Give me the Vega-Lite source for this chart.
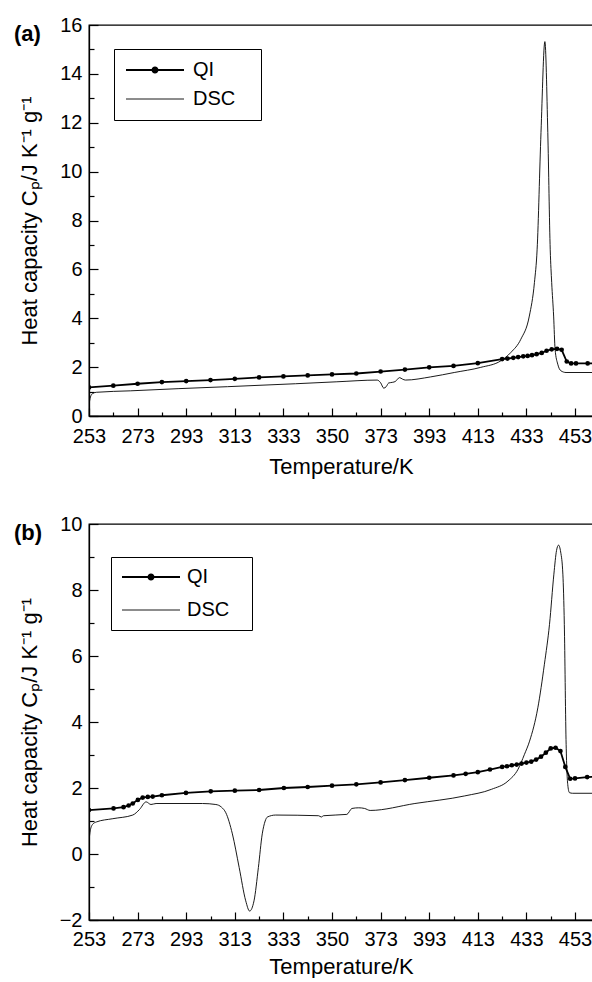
{
  "$schema": "https://vega.github.io/schema/vega-lite/v6.json",
  "background": "white",
  "padding": {"left": 13, "top": 14, "right": 0, "bottom": 0},
  "config": {
    "font": "Liberation Sans",
    "view": {"stroke": "black", "strokeWidth": 1.3},
    "axis": {"grid": false, "domainColor": "black", "domainWidth": 1.3, "tickColor": "black", "tickWidth": 1.2, "labelColor": "black", "titleColor": "black", "labelFontSize": 20, "titleFontSize": 22, "titleFontWeight": "normal", "labelOverlap": false, "labelFlush": false},
    "legend": {"orient": "none", "labelFontSize": 20, "labelColor": "black", "symbolType": "stroke", "symbolSize": 3364, "symbolStrokeColor": "black", "strokeColor": "black", "fillColor": "white", "padding": 11, "rowPadding": 9, "symbolOffset": 20, "labelOffset": 28, "symbolStrokeWidth": 1, "titleOrient": "right", "titleFontSize": 2, "titleColor": "white"},
    "title": {"fontSize": 22, "fontWeight": "bold", "anchor": "start", "frame": "group", "baseline": "top", "offset": -31, "dx": -75, "color": "black"},
    "concat": {"spacing": 35}
  },
  "resolve": {"scale": {"color": "independent", "x": "independent", "y": "independent"}, "legend": {"color": "independent"}},
  "vconcat": [
    {
      "title": {"text": "(a)"},
      "width": 504,
      "height": 391,
      "data": {"values": [
        {"s": "QI", "T": 253, "Cp": 1.17}, {"s": "QI", "T": 263, "Cp": 1.24}, {"s": "QI", "T": 273, "Cp": 1.32}, {"s": "QI", "T": 283, "Cp": 1.39}, {"s": "QI", "T": 293, "Cp": 1.43}, {"s": "QI", "T": 303, "Cp": 1.47}, {"s": "QI", "T": 313, "Cp": 1.52}, {"s": "QI", "T": 323, "Cp": 1.58}, {"s": "QI", "T": 333, "Cp": 1.62}, {"s": "QI", "T": 343, "Cp": 1.66}, {"s": "QI", "T": 353, "Cp": 1.70}, {"s": "QI", "T": 363, "Cp": 1.74}, {"s": "QI", "T": 373, "Cp": 1.82}, {"s": "QI", "T": 383, "Cp": 1.90}, {"s": "QI", "T": 393, "Cp": 1.99}, {"s": "QI", "T": 403, "Cp": 2.05}, {"s": "QI", "T": 413, "Cp": 2.16}, {"s": "QI", "T": 423, "Cp": 2.33}, {"s": "QI", "T": 425.2, "Cp": 2.35}, {"s": "QI", "T": 427.6, "Cp": 2.38}, {"s": "QI", "T": 429.6, "Cp": 2.41}, {"s": "QI", "T": 431.7, "Cp": 2.44}, {"s": "QI", "T": 433.5, "Cp": 2.46}, {"s": "QI", "T": 435.3, "Cp": 2.49}, {"s": "QI", "T": 437.2, "Cp": 2.53}, {"s": "QI", "T": 439.3, "Cp": 2.58}, {"s": "QI", "T": 441.3, "Cp": 2.67}, {"s": "QI", "T": 443.4, "Cp": 2.73}, {"s": "QI", "T": 445.6, "Cp": 2.75}, {"s": "QI", "T": 447.5, "Cp": 2.71}, {"s": "QI", "T": 449.6, "Cp": 2.23}, {"s": "QI", "T": 451.4, "Cp": 2.15}, {"s": "QI", "T": 453.4, "Cp": 2.15}, {"s": "QI", "T": 458.2, "Cp": 2.15}, {"s": "QI", "T": 461.5, "Cp": 2.15},
        {"s": "DSC", "T": 253, "Cp": 0.45}, {"s": "DSC", "T": 253.6, "Cp": 0.78}, {"s": "DSC", "T": 254.5, "Cp": 0.92}, {"s": "DSC", "T": 256, "Cp": 0.97}, {"s": "DSC", "T": 270, "Cp": 1.03}, {"s": "DSC", "T": 290, "Cp": 1.12}, {"s": "DSC", "T": 310, "Cp": 1.2}, {"s": "DSC", "T": 338, "Cp": 1.32}, {"s": "DSC", "T": 355, "Cp": 1.4}, {"s": "DSC", "T": 371.6, "Cp": 1.47}, {"s": "DSC", "T": 373, "Cp": 1.36}, {"s": "DSC", "T": 374.3, "Cp": 1.14}, {"s": "DSC", "T": 375.3, "Cp": 1.2}, {"s": "DSC", "T": 376.3, "Cp": 1.35}, {"s": "DSC", "T": 378, "Cp": 1.38}, {"s": "DSC", "T": 379, "Cp": 1.41}, {"s": "DSC", "T": 380.8, "Cp": 1.57}, {"s": "DSC", "T": 382, "Cp": 1.51}, {"s": "DSC", "T": 383.2, "Cp": 1.47}, {"s": "DSC", "T": 393.6, "Cp": 1.6}, {"s": "DSC", "T": 403.3, "Cp": 1.78}, {"s": "DSC", "T": 414.2, "Cp": 1.99}, {"s": "DSC", "T": 422.5, "Cp": 2.26}, {"s": "DSC", "T": 426.6, "Cp": 2.6}, {"s": "DSC", "T": 430.7, "Cp": 3.14}, {"s": "DSC", "T": 434.2, "Cp": 4.09}, {"s": "DSC", "T": 436.3, "Cp": 5.46}, {"s": "DSC", "T": 437.4, "Cp": 6.8}, {"s": "DSC", "T": 439, "Cp": 11.6}, {"s": "DSC", "T": 440.6, "Cp": 15.32}, {"s": "DSC", "T": 441.8, "Cp": 11.6}, {"s": "DSC", "T": 442.8, "Cp": 6.8}, {"s": "DSC", "T": 443.4, "Cp": 5.46}, {"s": "DSC", "T": 444.2, "Cp": 4.09}, {"s": "DSC", "T": 444.8, "Cp": 2.73}, {"s": "DSC", "T": 445.9, "Cp": 2.12}, {"s": "DSC", "T": 447.2, "Cp": 1.85}, {"s": "DSC", "T": 449.3, "Cp": 1.78}, {"s": "DSC", "T": 461.5, "Cp": 1.78}
      ]},
      "encoding": {
        "x": {"field": "T", "type": "quantitative", "scale": {"domain": [253, 460.4], "nice": false, "zero": false},
          "axis": {"title": "Temperature/K", "values": [253, 263, 273, 283, 293, 303, 313, 323, 333, 343, 353, 363, 373, 383, 393, 403, 413, 423, 433, 443, 453],
            "tickSize": -8,
            "tickDash": {"condition": {"test": "(datum.value - 253) % 20 === 0", "value": [8, 0]}, "value": [4, 30]},
            "labelExpr": "(datum.value - 253) % 20 === 0 ? (datum.value === 353 ? '350' : datum.label) : ''",
            "labelPadding": 18, "titlePadding": 10}},
        "y": {"field": "Cp", "type": "quantitative", "scale": {"domain": [0, 16], "nice": false},
          "axis": {"title": "Heat capacity Cₚ/J K⁻¹ g⁻¹", "values": [0, 1, 2, 3, 4, 5, 6, 7, 8, 9, 10, 11, 12, 13, 14, 15, 16],
            "tickSize": -9,
            "tickDash": {"condition": {"test": "datum.value % 2 === 0", "value": [9, 0]}, "value": [5, 30]},
            "labelExpr": "datum.value % 2 === 0 ? datum.label : ''",
            "labelPadding": 16, "titlePadding": 18}},
        "color": {"field": "s", "type": "nominal", "scale": {"domain": ["QI", "DSC"], "range": ["black", "black"]},
          "legend": {"title": ".", "titlePadding": 14, "legendX": 25, "legendY": 24,
            "encode": {"symbols": {"update": {
              "shape": {"signal": "datum.value === 'QI' ? 'M-1,0L1,0M-0.09,0A0.09,0.09,0,1,1,0.09,0A0.09,0.09,0,1,1,-0.09,0Z' : 'stroke'"},
              "strokeWidth": {"signal": "datum.value === 'QI' ? 1.8 : 0.9"},
              "fill": {"value": "black"}}}}}}
      },
      "layer": [
        {"transform": [{"filter": "datum.s === 'DSC'"}], "mark": {"type": "line", "strokeWidth": 0.9, "interpolate": "monotone", "clip": true}},
        {"transform": [{"filter": "datum.s === 'QI'"}], "mark": {"type": "line", "strokeWidth": 1.8, "clip": true, "point": {"filled": true, "size": 22, "color": "black"}}}
      ]
    },
    {
      "title": {"text": "(b)"},
      "width": 504,
      "height": 396,
      "data": {"values": [
        {"s": "QI", "T": 253, "Cp": 1.33}, {"s": "QI", "T": 263.1, "Cp": 1.38}, {"s": "QI", "T": 267.2, "Cp": 1.42}, {"s": "QI", "T": 269.3, "Cp": 1.47}, {"s": "QI", "T": 271, "Cp": 1.53}, {"s": "QI", "T": 273.1, "Cp": 1.64}, {"s": "QI", "T": 275.1, "Cp": 1.71}, {"s": "QI", "T": 277.2, "Cp": 1.73}, {"s": "QI", "T": 279.2, "Cp": 1.74}, {"s": "QI", "T": 283, "Cp": 1.78}, {"s": "QI", "T": 292.9, "Cp": 1.85}, {"s": "QI", "T": 303.1, "Cp": 1.9}, {"s": "QI", "T": 313, "Cp": 1.92}, {"s": "QI", "T": 323, "Cp": 1.94}, {"s": "QI", "T": 333.2, "Cp": 2.0}, {"s": "QI", "T": 343, "Cp": 2.03}, {"s": "QI", "T": 353, "Cp": 2.07}, {"s": "QI", "T": 363, "Cp": 2.11}, {"s": "QI", "T": 373, "Cp": 2.17}, {"s": "QI", "T": 383, "Cp": 2.24}, {"s": "QI", "T": 393, "Cp": 2.31}, {"s": "QI", "T": 403, "Cp": 2.38}, {"s": "QI", "T": 408, "Cp": 2.43}, {"s": "QI", "T": 413, "Cp": 2.48}, {"s": "QI", "T": 418, "Cp": 2.56}, {"s": "QI", "T": 423, "Cp": 2.64}, {"s": "QI", "T": 425, "Cp": 2.66}, {"s": "QI", "T": 427, "Cp": 2.69}, {"s": "QI", "T": 429, "Cp": 2.71}, {"s": "QI", "T": 431, "Cp": 2.74}, {"s": "QI", "T": 433, "Cp": 2.77}, {"s": "QI", "T": 435, "Cp": 2.8}, {"s": "QI", "T": 437, "Cp": 2.86}, {"s": "QI", "T": 439, "Cp": 2.95}, {"s": "QI", "T": 441, "Cp": 3.07}, {"s": "QI", "T": 443, "Cp": 3.2}, {"s": "QI", "T": 445, "Cp": 3.22}, {"s": "QI", "T": 447, "Cp": 3.12}, {"s": "QI", "T": 449, "Cp": 2.64}, {"s": "QI", "T": 451, "Cp": 2.28}, {"s": "QI", "T": 453, "Cp": 2.29}, {"s": "QI", "T": 458, "Cp": 2.33}, {"s": "QI", "T": 461.5, "Cp": 2.34},
        {"s": "DSC", "T": 253, "Cp": 0.39}, {"s": "DSC", "T": 253.5, "Cp": 0.7}, {"s": "DSC", "T": 254.5, "Cp": 0.9}, {"s": "DSC", "T": 256, "Cp": 0.97}, {"s": "DSC", "T": 262.8, "Cp": 1.07}, {"s": "DSC", "T": 271, "Cp": 1.18}, {"s": "DSC", "T": 273.8, "Cp": 1.35}, {"s": "DSC", "T": 276.5, "Cp": 1.58}, {"s": "DSC", "T": 278.5, "Cp": 1.5}, {"s": "DSC", "T": 280.6, "Cp": 1.53}, {"s": "DSC", "T": 299.7, "Cp": 1.53}, {"s": "DSC", "T": 305.2, "Cp": 1.5}, {"s": "DSC", "T": 307.5, "Cp": 1.42}, {"s": "DSC", "T": 309.3, "Cp": 1.25}, {"s": "DSC", "T": 312, "Cp": 0.61}, {"s": "DSC", "T": 314.8, "Cp": -0.41}, {"s": "DSC", "T": 317.5, "Cp": -1.42}, {"s": "DSC", "T": 319.1, "Cp": -1.73}, {"s": "DSC", "T": 320.9, "Cp": -1.42}, {"s": "DSC", "T": 322.7, "Cp": -0.41}, {"s": "DSC", "T": 324.3, "Cp": 0.61}, {"s": "DSC", "T": 325.5, "Cp": 1.0}, {"s": "DSC", "T": 326.4, "Cp": 1.12}, {"s": "DSC", "T": 329.8, "Cp": 1.18}, {"s": "DSC", "T": 347.5, "Cp": 1.16}, {"s": "DSC", "T": 348.6, "Cp": 1.12}, {"s": "DSC", "T": 349.5, "Cp": 1.16}, {"s": "DSC", "T": 359.1, "Cp": 1.2}, {"s": "DSC", "T": 361.2, "Cp": 1.38}, {"s": "DSC", "T": 364, "Cp": 1.4}, {"s": "DSC", "T": 366.4, "Cp": 1.38}, {"s": "DSC", "T": 368.7, "Cp": 1.32}, {"s": "DSC", "T": 387.1, "Cp": 1.53}, {"s": "DSC", "T": 407.6, "Cp": 1.76}, {"s": "DSC", "T": 418.6, "Cp": 1.96}, {"s": "DSC", "T": 425.4, "Cp": 2.21}, {"s": "DSC", "T": 429.5, "Cp": 2.56}, {"s": "DSC", "T": 432.2, "Cp": 3.02}, {"s": "DSC", "T": 434.3, "Cp": 3.42}, {"s": "DSC", "T": 437.7, "Cp": 4.43}, {"s": "DSC", "T": 440.4, "Cp": 5.75}, {"s": "DSC", "T": 442.5, "Cp": 6.96}, {"s": "DSC", "T": 444.3, "Cp": 8.48}, {"s": "DSC", "T": 445.4, "Cp": 9.2}, {"s": "DSC", "T": 446.2, "Cp": 9.36}, {"s": "DSC", "T": 447.1, "Cp": 9.15}, {"s": "DSC", "T": 448, "Cp": 8.48}, {"s": "DSC", "T": 448.6, "Cp": 6.96}, {"s": "DSC", "T": 449.3, "Cp": 3.47}, {"s": "DSC", "T": 450, "Cp": 2.11}, {"s": "DSC", "T": 450.7, "Cp": 1.86}, {"s": "DSC", "T": 452, "Cp": 1.84}, {"s": "DSC", "T": 461.5, "Cp": 1.84}
      ]},
      "encoding": {
        "x": {"field": "T", "type": "quantitative", "scale": {"domain": [253, 460.4], "nice": false, "zero": false},
          "axis": {"title": "Temperature/K", "values": [253, 263, 273, 283, 293, 303, 313, 323, 333, 343, 353, 363, 373, 383, 393, 403, 413, 423, 433, 443, 453],
            "tickSize": -8,
            "tickDash": {"condition": {"test": "(datum.value - 253) % 20 === 0", "value": [8, 0]}, "value": [4, 30]},
            "labelExpr": "(datum.value - 253) % 20 === 0 ? (datum.value === 353 ? '350' : datum.label) : ''",
            "labelPadding": 17, "titlePadding": 7}},
        "y": {"field": "Cp", "type": "quantitative", "scale": {"domain": [-2, 10], "nice": false},
          "axis": {"title": "Heat capacity Cₚ/J K⁻¹ g⁻¹", "values": [-2, -1, 0, 1, 2, 3, 4, 5, 6, 7, 8, 9, 10],
            "tickSize": -9,
            "tickDash": {"condition": {"test": "datum.value % 2 === 0", "value": [9, 0]}, "value": [5, 30]},
            "labelExpr": "datum.value % 2 === 0 ? datum.label : ''",
            "labelPadding": 16, "titlePadding": 18}},
        "color": {"field": "s", "type": "nominal", "scale": {"domain": ["QI", "DSC"], "range": ["black", "black"]},
          "legend": {"title": ".", "titlePadding": 12, "legendX": 22, "legendY": 33, "rowPadding": 13, "padding": 10, "labelOffset": 26,
            "encode": {"symbols": {"update": {
              "shape": {"signal": "datum.value === 'QI' ? 'M-1,0L1,0M-0.09,0A0.09,0.09,0,1,1,0.09,0A0.09,0.09,0,1,1,-0.09,0Z' : 'stroke'"},
              "strokeWidth": {"signal": "datum.value === 'QI' ? 1.8 : 0.9"},
              "fill": {"value": "black"}}}}}}
      },
      "layer": [
        {"transform": [{"filter": "datum.s === 'DSC'"}], "mark": {"type": "line", "strokeWidth": 0.9, "interpolate": "monotone", "clip": true}},
        {"transform": [{"filter": "datum.s === 'QI'"}], "mark": {"type": "line", "strokeWidth": 1.8, "clip": true, "point": {"filled": true, "size": 22, "color": "black"}}}
      ]
    }
  ]
}
